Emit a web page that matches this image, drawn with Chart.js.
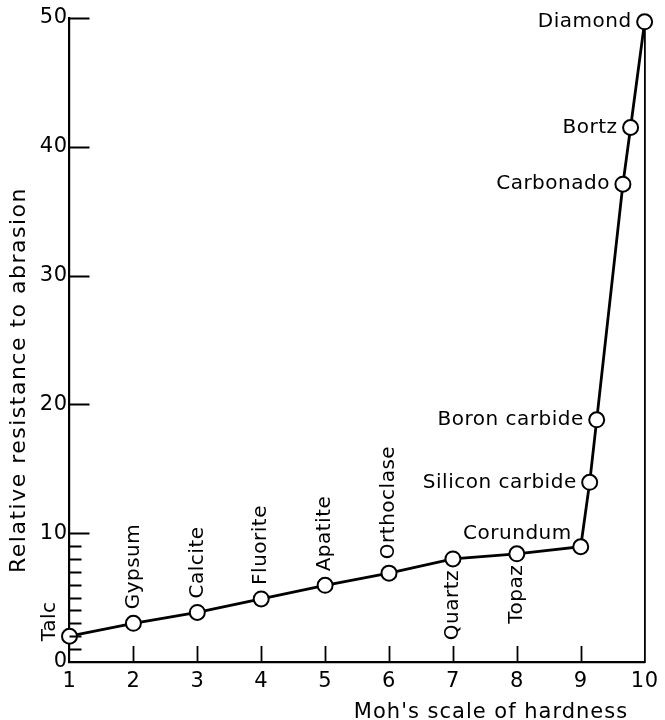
<!DOCTYPE html>
<html>
<head>
<meta charset="utf-8">
<script src="https://cdn.jsdelivr.net/npm/chart.js@4.4.1/dist/chart.umd.min.js"></script>
<style>
    html, body { margin: 0; padding: 0; background: #fff; }
    #wrap { width: 665px; height: 720px; }
</style>
</head>
<body>
<div id="wrap"><canvas id="abrasion"></canvas></div>
<script>
// Minerals / abrasives, their place on Moh's scale and resistance to abrasion
const minerals = ['Talc', 'Gypsum', 'Calcite', 'Fluorite', 'Apatite', 'Orthoclase', 'Quartz',
    'Topaz', 'Corundum', 'Silicon carbide', 'Boron carbide', 'Carbonado', 'Bortz', 'Diamond'];
const hardness = [1, 2, 3, 4, 5, 6, 7, 8, 9, 9.14, 9.25, 9.66, 9.78, 10];
const resistance = [2, 3, 3.85, 4.9, 5.95, 6.9, 8, 8.4, 8.95, 13.95, 18.8, 37.1, 41.5, 49.7];

const xTicks = [1, 2, 3, 4, 5, 6, 7, 8, 9, 10];
const yTicks = [0, 10, 20, 30, 40, 50];

const FONT = '"DejaVu Sans", sans-serif';

// where each name goes relative to its marker
const placement = {
    'Talc': 'side', 'Gypsum': 'up', 'Calcite': 'up', 'Fluorite': 'up', 'Apatite': 'up',
    'Orthoclase': 'up', 'Quartz': 'down', 'Topaz': 'down', 'Corundum': 'upLeft',
    'Silicon carbide': 'left', 'Boron carbide': 'left', 'Carbonado': 'left',
    'Bortz': 'left', 'Diamond': 'left'
};

const decorations = {
    id: 'decorations',
    beforeDraw(chart) {
        chart.ctx.letterSpacing = '0.5px';
    },
    afterDraw(chart) {
        const ctx = chart.ctx;
        const x = chart.scales.x, y = chart.scales.y;
        const area = chart.chartArea;
        ctx.save();
        ctx.strokeStyle = '#000';
        ctx.lineWidth = 1.8;
        ctx.beginPath();
        // inward ticks on y axis, minor ones only below 10
        for (let v = 1; v <= 50; v++) {
            if (v > 10 && v % 10 !== 0) continue;
            const py = Math.round(y.getPixelForValue(v)) + 0.5;
            const len = v % 10 === 0 ? 20 : 12;
            ctx.moveTo(area.left, py);
            ctx.lineTo(area.left + len, py);
        }
        // inward ticks on x axis
        for (let v = 2; v <= 9; v++) {
            const px = Math.round(x.getPixelForValue(v)) + 0.5;
            ctx.moveTo(px, area.bottom);
            ctx.lineTo(px, area.bottom - 16);
        }
        ctx.stroke();

        // mineral names
        ctx.fillStyle = '#000';
        ctx.font = '20px ' + FONT;
        ctx.letterSpacing = '0.5px';
        const meta = chart.getDatasetMeta(0);
        meta.data.forEach((pt, i) => {
            const name = minerals[i];
            const px = pt.x, py = pt.y;
            const where = placement[name];
            ctx.save();
            if (where === 'up' || where === 'down' || where === 'side') {
                ctx.textBaseline = 'middle';
                if (where === 'up') {
                    ctx.translate(px, py - 14);
                    ctx.textAlign = 'left';
                } else if (where === 'down') {
                    ctx.translate(px, py + 11);
                    ctx.textAlign = 'right';
                } else {
                    ctx.translate(px - 20, py + 5);
                    ctx.textAlign = 'left';
                }
                ctx.rotate(-Math.PI / 2);
                ctx.fillText(name, 0, 0);
            } else if (where === 'upLeft') {
                ctx.textAlign = 'right';
                ctx.textBaseline = 'alphabetic';
                ctx.fillText(name, px - 9, py - 8);
            } else {
                ctx.textAlign = 'right';
                ctx.textBaseline = 'middle';
                ctx.fillText(name, px - 13, py);
            }
            ctx.restore();
        });

        // axis titles
        ctx.font = '21px ' + FONT;
        ctx.letterSpacing = '1px';
        ctx.textAlign = 'center';
        ctx.textBaseline = 'alphabetic';
        ctx.fillText("Moh's scale of hardness", 491, 718);
        ctx.save();
        ctx.translate(19, 380);
        ctx.rotate(-Math.PI / 2);
        ctx.font = '22px ' + FONT;
        ctx.letterSpacing = '1.5px';
        ctx.textBaseline = 'middle';
        ctx.fillText('Relative resistance to abrasion', 0, 0);
        ctx.restore();
        ctx.restore();
    }
};

const config = {
    type: 'scatter',
    data: {
        datasets: [{
            data: hardness.map((h, i) => ({ x: h, y: resistance[i] })),
            showLine: true,
            borderColor: '#000',
            borderWidth: 2.8,
            tension: 0,
            pointRadius: 7.5,
            pointBackgroundColor: '#fff',
            pointBorderColor: '#000',
            pointBorderWidth: 2,
            clip: false
        }]
    },
    options: {
        responsive: true,
        maintainAspectRatio: false,
        animation: false,
        layout: { padding: { top: 18 } },
        plugins: {
            legend: { display: false },
            tooltip: { enabled: false }
        },
        scales: {
            x: {
                type: 'linear',
                min: 1,
                max: 10,
                afterBuildTicks: (s) => { s.ticks = xTicks.map(v => ({ value: v })); },
                afterFit: (s) => { s.height = 58; },
                grid: { display: false, drawTicks: false },
                border: { display: true, color: '#000', width: 2.2 },
                ticks: { color: '#000', font: { family: FONT, size: 21 }, padding: 7 }
            },
            y: {
                type: 'linear',
                min: 0,
                max: 50,
                afterBuildTicks: (s) => { s.ticks = yTicks.map(v => ({ value: v })); },
                afterFit: (s) => { s.width = 69.5; },
                grid: { display: false, drawTicks: false },
                border: { display: true, color: '#000', width: 2.2 },
                ticks: { color: '#000', font: { family: FONT, size: 21 }, padding: 2 }
            },
            y2: {
                type: 'linear',
                position: 'right',
                min: 0,
                max: 50,
                afterFit: (s) => { s.width = 15.5; },
                grid: { display: false, drawTicks: false },
                border: { display: true, color: '#000', width: 1.8 },
                ticks: { display: false }
            }
        }
    },
    plugins: [decorations]
};

const abrasionCanvas = document.getElementById('abrasion').getContext('2d');
const abrasionChart = new Chart(abrasionCanvas, config);
</script>
</body>
</html>
